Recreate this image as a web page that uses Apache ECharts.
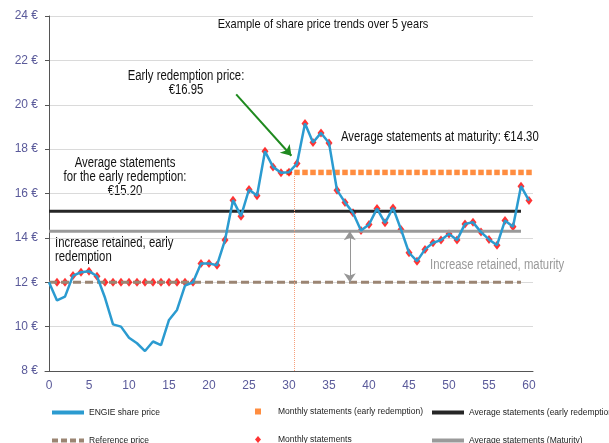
<!DOCTYPE html>
<html>
<head>
<meta charset="utf-8">
<script src="https://cdn.jsdelivr.net/npm/echarts@6/dist/echarts.min.js"></script>
<style>
  html, body { margin: 0; padding: 0; background: #fff; }
  #chart { width: 609px; height: 443px; }
</style>
</head>
<body>
<div id="chart"></div>
<script>
const FONT = '"Liberation Sans", Arial, sans-serif'
// no narrow font installed, so annotation texts get squeezed horizontally
const NARROW = 0.81

// months 0..60 (category labels)
const months = ['0', '1', '2', '3', '4', '5', '6', '7', '8', '9', '10', '11', '12', '13', '14', '15',
  '16', '17', '18', '19', '20', '21', '22', '23', '24', '25', '26', '27', '28', '29', '30', '31', '32',
  '33', '34', '35', '36', '37', '38', '39', '40', '41', '42', '43', '44', '45', '46', '47', '48', '49',
  '50', '51', '52', '53', '54', '55', '56', '57', '58', '59', '60']

const sharePrice = [12.0, 11.18, 11.35, 12.3, 12.45, 12.5, 12.27, 11.3, 10.1, 10.0,
  9.5, 9.25, 8.9, 9.33, 9.17, 10.3, 10.75, 11.85, 12.0, 12.85,
  12.85, 12.77, 13.9, 15.7, 14.98, 16.18, 15.9, 17.9, 17.2, 16.93,
  16.96, 17.35, 19.15, 18.3, 18.73, 18.28, 16.15, 15.6, 15.13, 14.33,
  14.6, 15.32, 14.68, 15.35, 14.38, 13.33, 12.95, 13.48, 13.78, 13.9,
  14.18, 13.9, 14.63, 14.7, 14.26, 13.93, 13.67, 14.78, 14.5, 16.33, 15.68]

const monthlyStatements = [null, 12, 12, 12.3, 12.45, 12.5, 12.27, 12, 12, 12,
  12, 12, 12, 12, 12, 12, 12, 12, 12, 12.85,
  12.85, 12.77, 13.9, 15.7, 14.98, 16.18, 15.9, 17.9, 17.2, 16.93,
  16.96, 17.35, 19.15, 18.3, 18.73, 18.28, 16.15, 15.6, 15.13, 14.33,
  14.6, 15.32, 14.68, 15.35, 14.38, 13.33, 12.95, 13.48, 13.78, 13.9,
  14.18, 13.9, 14.63, 14.7, 14.26, 13.93, 13.67, 14.78, 14.5, 16.33, 15.68]

const earlyStatements = [null, null, null, null, null, null, null, null, null, null,
  null, null, null, null, null, null, null, null, null, null,
  null, null, null, null, null, null, null, null, null, null,
  16.95, 16.95, 16.95, 16.95, 16.95, 16.95, 16.95, 16.95, 16.95, 16.95,
  16.95, 16.95, 16.95, 16.95, 16.95, 16.95, 16.95, 16.95, 16.95, 16.95,
  16.95, 16.95, 16.95, 16.95, 16.95, 16.95, 16.95, 16.95, 16.95, 16.95, 16.95]

// flat levels: [month, price] at both ends
const referencePrice = [[0, 12], [59, 12]]
const avgEarly = [[0, 15.2], [59, 15.2]]
const avgMaturity = [[0, 14.3], [59, 14.3]]

// annotation anchors, in (month, price)
const redemptionMark = [[30.6, 8], [30.6, 16.95]]
const greenArrow = [[23.4, 20.47], [30.3, 17.7]]
const grayArrow = [[37.6, 14.3], [37.6, 12.0]]

const chart = echarts.init(document.getElementById('chart'), null, { renderer: 'canvas' })

const axisColor = '#5a5a9a'
const legendText = { fontSize: 8.5, color: '#222', fontFamily: FONT }
const dashIcon = 'path://M0,0h6v4h-6z M9,0h6v4h-6z M18,0h6v4h-6z M27,0h5v4h-5z'

const lineLegend = (name, icon, left, top) => ({
  data: [{ name, icon }], left, top, padding: 0,
  itemWidth: 32, itemHeight: 4,
  textStyle: legendText,
  selectedMode: false
})

const note = (text, x, y, opts) => ({
  type: 'text', x, y, scaleX: NARROW,
  style: Object.assign({ text, font: '14px ' + FONT, fill: '#111', textVerticalAlign: 'middle' }, opts)
})

const option = {
  animation: false,
  grid: { left: 45, right: 76, top: 16, bottom: 72 },
  legend: [
    lineLegend('ENGIE share price', 'rect', 52, 408),
    lineLegend('Reference price', dashIcon, 52, 436),
    lineLegend('Average statements (early redemption)', 'rect', 432, 408),
    lineLegend('Average statements (Maturity)', 'rect', 432, 436),
    {
      data: ['Monthly statements (early redemption)'], left: 255, top: 407, padding: 0,
      itemWidth: 6, itemHeight: 6, selectedMode: false,
      textStyle: Object.assign({ padding: [0, 0, 0, 12] }, legendText)
    },
    {
      data: ['Monthly statements'], left: 255, top: 435, padding: 0,
      itemWidth: 6, itemHeight: 7, selectedMode: false,
      textStyle: Object.assign({ padding: [0, 0, 0, 12] }, legendText)
    }
  ],
  xAxis: [
    {
      type: 'category',
      data: months,
      boundaryGap: true,
      axisLine: { lineStyle: { color: '#555', width: 1 } },
      axisTick: { interval: 4, length: 4, lineStyle: { color: '#555' } },
      axisLabel: { interval: 4, color: axisColor, fontSize: 12, fontFamily: FONT, margin: 9 },
      splitLine: { show: false }
    },
    { type: 'value', min: -0.5, max: 60.5, show: false }
  ],
  yAxis: {
    type: 'value',
    min: 8,
    max: 24,
    interval: 2,
    axisLine: { show: true, lineStyle: { color: '#555', width: 1 } },
    axisTick: { show: true, length: 4, lineStyle: { color: '#555' } },
    axisLabel: { formatter: '{value} €', color: axisColor, fontSize: 12, fontFamily: FONT, margin: 7 },
    splitLine: { lineStyle: { color: '#dadada', width: 1 } }
  },
  graphic: [
    Object.assign(note('Example of share price trends over 5 years', 323, 24,
      { font: '13px ' + FONT, textAlign: 'center' }), { scaleX: 0.85 }),
    note('Early redemption price:\n€16.95', 186, 83, { lineHeight: 14, textAlign: 'center' }),
    note('Average statements at maturity: €14.30', 341, 137, { textAlign: 'left' }),
    note('Average statements\nfor the early redemption:\n€15.20', 125, 177, { lineHeight: 13.7, textAlign: 'center' }),
    note('Increase retained, early\nredemption', 55, 250, { lineHeight: 13.5, textAlign: 'left' }),
    note('Increase retained, maturity', 430, 265, { fill: '#999', textAlign: 'left' })
  ],
  series: [
    {
      name: 'Reference price', type: 'line', xAxisIndex: 1, data: referencePrice,
      symbol: 'none', lineStyle: { color: '#9b8573', width: 3, type: [8, 4] }, itemStyle: { color: '#9b8573' },
      markLine: {
        silent: true, symbol: ['arrow', 'arrow'], symbolSize: 9, label: { show: false },
        lineStyle: { color: '#969696', width: 1, type: 'solid' },
        data: [[{ coord: grayArrow[0] }, { coord: grayArrow[1] }]]
      }
    },
    {
      name: 'Average statements (Maturity)', type: 'line', xAxisIndex: 1, data: avgMaturity,
      symbol: 'none', lineStyle: { color: '#9a9a9a', width: 3 }, itemStyle: { color: '#9a9a9a' },
      markLine: {
        silent: true, symbol: 'none', label: { show: false },
        lineStyle: { color: '#f7a07c', width: 1, type: 'dotted' },
        data: [[{ coord: redemptionMark[0] }, { coord: redemptionMark[1] }]]
      }
    },
    {
      name: 'Average statements (early redemption)', type: 'line', xAxisIndex: 1, data: avgEarly,
      symbol: 'none', lineStyle: { color: '#262626', width: 3 }, itemStyle: { color: '#262626' },
      markLine: {
        silent: true, symbol: ['none', 'arrow'], symbolSize: 10, label: { show: false },
        lineStyle: { color: '#1f8a1f', width: 2, type: 'solid' },
        data: [[{ coord: greenArrow[0] }, { coord: greenArrow[1] }]]
      }
    },
    {
      name: 'Monthly statements (early redemption)', type: 'scatter', data: earlyStatements,
      symbol: 'rect', symbolSize: 5.5, itemStyle: { color: '#ff7010' }
    },
    {
      name: 'ENGIE share price', type: 'line', data: sharePrice,
      symbol: 'none', lineStyle: { color: '#2b9bd0', width: 2.5 }, itemStyle: { color: '#2b9bd0' }
    },
    {
      name: 'Monthly statements', type: 'scatter', data: monthlyStatements,
      symbol: 'diamond', symbolSize: [7, 9], itemStyle: { color: '#ff0000' }
    }
  ]
}

chart.setOption(option)
</script>
</body>
</html>
